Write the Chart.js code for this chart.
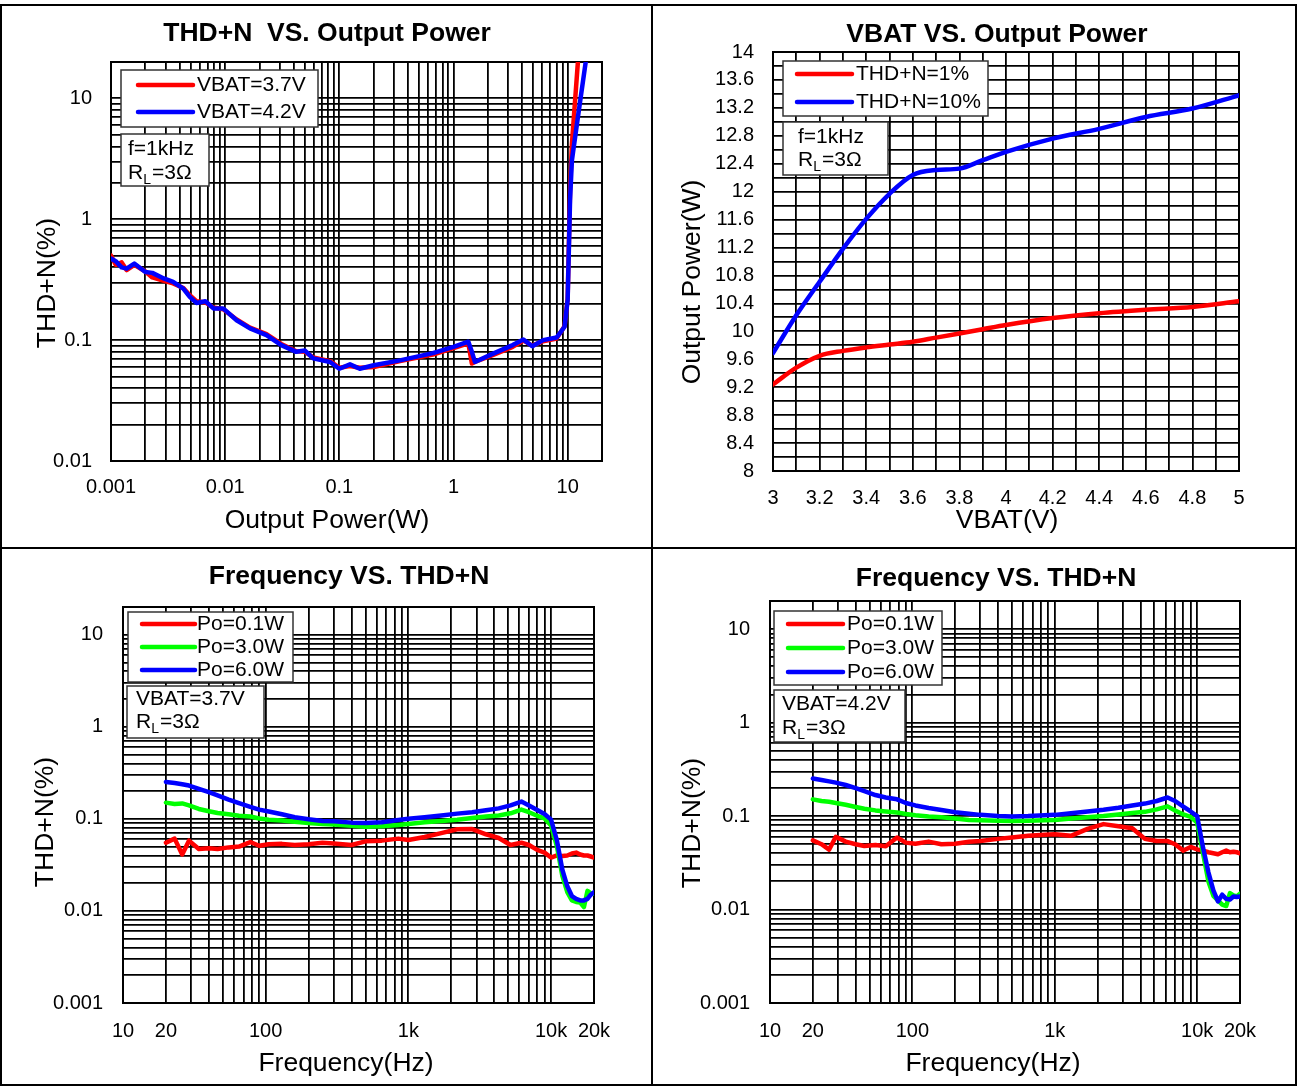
<!DOCTYPE html>
<html>
<head>
<meta charset="utf-8">
<title>Amplifier characteristics</title>
<script src="https://cdn.jsdelivr.net/npm/chart.js@4.4.1/dist/chart.umd.min.js"></script>
<style>
  html, body { margin: 0; padding: 0; background: #fff; }
  #sheet { position: relative; width: 1297px; height: 1086px; background: #fff; overflow: hidden; }
  #sheet canvas { position: absolute; }
  .rule { position: absolute; background: #000; }
</style>
</head>
<body>
<div id="sheet">
  <canvas id="thdPower"></canvas>
  <canvas id="vbatPower"></canvas>
  <canvas id="freq37"></canvas>
  <canvas id="freq42"></canvas>
  <div class="rule" style="left:0;top:4px;width:1297px;height:2px"></div>
  <div class="rule" style="left:0;top:1084px;width:1297px;height:2px"></div>
  <div class="rule" style="left:0;top:4px;width:2px;height:1082px"></div>
  <div class="rule" style="left:1295px;top:4px;width:2px;height:1082px"></div>
  <div class="rule" style="left:651px;top:4px;width:2px;height:1082px"></div>
  <div class="rule" style="left:0;top:547px;width:1297px;height:2px"></div>
</div>
<script>
// THD+N vs output power (f=1kHz, RL=3ohm)
const powerW = [0.001, 0.0011, 0.00124, 0.00137, 0.0016, 0.002, 0.0023, 0.0029, 0.0035, 0.0043,
  0.0049, 0.0056, 0.0067, 0.0079, 0.0096, 0.0126, 0.0165, 0.023, 0.031, 0.042,
  0.05, 0.059, 0.083, 0.1, 0.124, 0.151, 0.2, 0.34, 0.66, 1.0,
  1.35, 1.45, 1.54, 2.2, 3.3, 4.1, 4.9, 6.1, 8.0, 9.4,
  10, 10.5, 10.9, 12.3, 14.4];
const thdVbat37 = [0.5, 0.42, 0.44, 0.38, 0.42, 0.37, 0.33, 0.31, 0.295, 0.27,
  0.235, 0.21, 0.205, 0.186, 0.18, 0.148, 0.127, 0.112, 0.093, 0.081,
  0.08, 0.072, 0.067, 0.059, 0.061, 0.059, 0.06, 0.067, 0.076, 0.086,
  0.094, 0.064, 0.066, 0.075, 0.088, 0.099, 0.09, 0.098, 0.103, 0.13,
  0.22, 1.7, 4.2, 20, null];
const thdVbat42 = [0.473, 0.45, 0.40, 0.39, 0.43, 0.366, 0.36, 0.324, 0.303, 0.267,
  0.228, 0.203, 0.21, 0.183, 0.183, 0.146, 0.125, 0.11, 0.091, 0.08,
  0.082, 0.0706, 0.066, 0.058, 0.063, 0.058, 0.062, 0.068, 0.078, 0.088,
  0.097, 0.08, 0.066, 0.077, 0.091, 0.101, 0.089, 0.1, 0.105, 0.129,
  0.214, 1.44, 3.07, 7.0, 20];

// Output power vs VBAT
const vbatV = [3.0, 3.1, 3.2, 3.3, 3.4, 3.5, 3.6, 3.7, 3.8, 3.9, 4.0, 4.2, 4.4, 4.6, 4.8, 5.0];
const powerAt1 = [9.24, 9.48, 9.65, 9.72, 9.77, 9.81, 9.85, 9.91, 9.97, 10.03, 10.09, 10.19, 10.26, 10.31, 10.35, 10.43];
const powerAt10 = [9.69, 10.23, 10.71, 11.18, 11.61, 11.97, 12.24, 12.31, 12.33, 12.45, 12.57, 12.76, 12.9, 13.07, 13.19, 13.38];

// THD+N vs frequency
const freqHz = [20, 23, 26, 29, 34, 40, 46, 55, 65, 78,
  90, 105, 130, 160, 200, 250, 300, 400, 500, 650,
  850, 1000, 1300, 1700, 2200, 2800, 3500, 4300, 5200, 6200,
  7000, 8000, 9000, 10000, 11000, 12000, 13000, 14000, 15000, 16000,
  17000, 18000, 19000, 20000];
// VBAT=3.7V
const thd37Po01 = [0.055, 0.061, 0.041, 0.058, 0.047, 0.048, 0.047, 0.049, 0.05, 0.056,
  0.051, 0.053, 0.0535, 0.052, 0.053, 0.055, 0.054, 0.052, 0.057, 0.058,
  0.061, 0.059, 0.0635, 0.07, 0.077, 0.0775, 0.068, 0.062, 0.052, 0.055,
  0.052, 0.046, 0.043, 0.038, 0.04, 0.0395, 0.04, 0.042, 0.043, 0.041,
  0.04, 0.04, 0.039, 0.038];
const thd37Po3 = [0.15, 0.145, 0.147, 0.14, 0.128, 0.121, 0.116, 0.112, 0.108, 0.106,
  0.101, 0.098, 0.096, 0.093, 0.09, 0.088, 0.087, 0.084, 0.082, 0.083,
  0.086, 0.088, 0.092, 0.095, 0.098, 0.102, 0.106, 0.109, 0.115, 0.126,
  0.118, 0.108, 0.101, 0.085, 0.05, 0.024, 0.016, 0.013, 0.0125, 0.0123,
  0.011, 0.0165, 0.0155, 0.0154];
const thd37Po6 = [0.252, 0.245, 0.238, 0.23, 0.212, 0.195, 0.18, 0.162, 0.148, 0.135,
  0.126, 0.12, 0.112, 0.104, 0.099, 0.095, 0.094, 0.091, 0.09, 0.092,
  0.097, 0.1, 0.104, 0.109, 0.114, 0.118, 0.124, 0.13, 0.14, 0.154,
  0.14, 0.125, 0.113, 0.098, 0.058, 0.028, 0.0185, 0.0145, 0.0135, 0.013,
  0.013, 0.0135, 0.015, 0.016];
// VBAT=4.2V
const thd42Po01 = [0.055, 0.05, 0.0438, 0.06, 0.0533, 0.05, 0.0478, 0.049, 0.0475, 0.059,
  0.052, 0.0505, 0.0533, 0.05, 0.0505, 0.053, 0.054, 0.057, 0.059, 0.0615,
  0.063, 0.064, 0.0615, 0.073, 0.082, 0.078, 0.074, 0.057, 0.054, 0.054,
  0.05, 0.0427, 0.0467, 0.044, 0.0427, 0.041, 0.04, 0.039, 0.041, 0.0427,
  0.041, 0.0415, 0.041, 0.04];
const thd42Po3 = [0.151, 0.145, 0.142, 0.138, 0.132, 0.125, 0.12, 0.115, 0.112, 0.109,
  0.105, 0.102, 0.099, 0.097, 0.094, 0.091, 0.09, 0.089, 0.0885, 0.089,
  0.09, 0.0906, 0.094, 0.097, 0.1, 0.104, 0.108, 0.111, 0.118, 0.127,
  0.115, 0.104, 0.098, 0.085, 0.04, 0.02, 0.014, 0.0125, 0.0113, 0.0109,
  0.015, 0.0142, 0.0138, 0.0148];
const thd42Po6 = [0.252, 0.243, 0.235, 0.228, 0.215, 0.199, 0.185, 0.168, 0.158, 0.151,
  0.138, 0.13, 0.122, 0.116, 0.11, 0.106, 0.103, 0.1, 0.099, 0.1,
  0.102, 0.103, 0.107, 0.112, 0.117, 0.123, 0.13, 0.136, 0.145, 0.158,
  0.145, 0.126, 0.112, 0.1, 0.046, 0.025, 0.016, 0.0122, 0.0144, 0.013,
  0.0128, 0.0138, 0.0136, 0.0138];

// Tick labels
const powerTicks = [0.001, 0.01, 0.1, 1, 10];
const powerTickText = ['0.001', '0.01', '0.1', '1', '10'];
const thdTicksTop = [0.01, 0.1, 1, 10];
const thdTicksTopText = ['0.01', '0.1', '1', '10'];
const thdTicksFreq = [0.001, 0.01, 0.1, 1, 10];
const thdTicksFreqText = ['0.001', '0.01', '0.1', '1', '10'];
const freqTicks = [10, 20, 100, 1000, 10000, 20000];
const freqTickText = ['10', '20', '100', '1k', '10k', '20k'];

const FONT = '"Liberation Sans", Arial, sans-serif';
const RED = '#ff0000', GREEN = '#00ff00', BLUE = '#0000ff';

function pairs(xs, ys) {
  return xs.map((x, i) => ({ x: x, y: ys[i] }));
}

// 1..9 x 10^n grid between min and max
function logGrid(min, max) {
  const out = [];
  for (let e = Math.floor(Math.log10(min)); e <= Math.ceil(Math.log10(max)); e++) {
    for (let m = 1; m <= 9; m++) {
      const v = Number((m * Math.pow(10, e)).toPrecision(6));
      if (v >= min * 0.9999 && v <= max * 1.0001) out.push(v);
    }
  }
  return out;
}

function stepGrid(min, max, step) {
  const out = [];
  const n = Math.round((max - min) / step);
  for (let i = 0; i <= n; i++) out.push(Math.round((min + i * step) * 1000) / 1000);
  return out;
}

function axis(type, min, max, values, label, pad) {
  return {
    type: type, min: min, max: max,
    afterBuildTicks: s => { s.ticks = values.map(v => ({ value: v })); },
    ticks: {
      autoSkip: false, maxRotation: 0, minRotation: 0, padding: pad,
      color: '#000', font: { family: FONT, size: 20 },
      callback: (v, i) => label(v, i)
    },
    grid: { color: '#000', lineWidth: 1.8, drawTicks: false },
    border: { color: '#000', width: 2 }
  };
}

function listLabel(vals, texts) {
  return v => {
    const i = vals.findIndex(t => Math.abs(t - v) / t < 1e-6);
    return i < 0 ? '' : texts[i];
  };
}

// text with one-letter subscript written as X_Y
function drawRich(ctx, str, x, y) {
  const k = str.indexOf('_');
  ctx.font = '21px ' + FONT;
  if (k < 0) { ctx.fillText(str, x, y); return; }
  const head = str.slice(0, k), sub = str[k + 1], tail = str.slice(k + 2);
  ctx.fillText(head, x, y);
  x += ctx.measureText(head).width;
  ctx.font = '14px ' + FONT;
  ctx.fillText(sub, x, y + 7);
  x += ctx.measureText(sub).width + 1;
  ctx.font = '21px ' + FONT;
  ctx.fillText(tail, x, y);
}

const panelDecor = {
  id: 'panelDecor',
  beforeDatasetsDraw(chart) {
    const a = chart.chartArea, ctx = chart.ctx;
    ctx.save();
    ctx.strokeStyle = '#000';
    ctx.lineWidth = 2;
    ctx.strokeRect(a.left, a.top, a.right - a.left, a.bottom - a.top);
    ctx.restore();
  },
  afterDraw(chart, args, o) {
    const ctx = chart.ctx;
    const ox = o.origin[0], oy = o.origin[1];
    ctx.save();
    ctx.fillStyle = '#000';
    ctx.textBaseline = 'middle';

    ctx.textAlign = 'center';
    ctx.font = 'bold 26.5px ' + FONT;
    ctx.fillText(o.title[0], o.title[1] - ox, o.title[2] - oy);
    ctx.font = '26.5px ' + FONT;
    ctx.fillText(o.xTitle[0], o.xTitle[1] - ox, o.xTitle[2] - oy);
    ctx.save();
    ctx.translate(o.yTitle[1] - ox, o.yTitle[2] - oy);
    ctx.rotate(-Math.PI / 2);
    ctx.fillText(o.yTitle[0], 0, 0);
    ctx.restore();

    // legend box
    const L = o.legend;
    ctx.fillStyle = '#fff';
    ctx.fillRect(L.box[0] - ox, L.box[1] - oy, L.box[2], L.box[3]);
    ctx.strokeStyle = '#333';
    ctx.lineWidth = 1.5;
    ctx.strokeRect(L.box[0] - ox, L.box[1] - oy, L.box[2], L.box[3]);
    ctx.textAlign = 'left';
    chart.data.datasets.forEach((ds, i) => {
      const y = L.rows[i] - oy;
      ctx.strokeStyle = ds.borderColor;
      ctx.lineWidth = 4.5;
      ctx.lineCap = 'round';
      ctx.beginPath();
      ctx.moveTo(L.line[0] - ox, y);
      ctx.lineTo(L.line[1] - ox, y);
      ctx.stroke();
      ctx.fillStyle = '#000';
      ctx.font = '21px ' + FONT;
      ctx.fillText(ds.label, L.textX - ox, y);
    });

    // condition box
    const N = o.note;
    ctx.fillStyle = '#fff';
    ctx.fillRect(N.box[0] - ox, N.box[1] - oy, N.box[2], N.box[3]);
    ctx.strokeStyle = '#333';
    ctx.lineWidth = 1.5;
    ctx.strokeRect(N.box[0] - ox, N.box[1] - oy, N.box[2], N.box[3]);
    ctx.fillStyle = '#000';
    N.lines.forEach((s, i) => drawRich(ctx, s, N.textX - ox, N.rows[i] - oy));
    ctx.restore();
  }
};

function makePanel(id, rect, area, xAxis, yAxis, datasets, decor) {
  const [ox, oy, w, h] = rect;
  const cv = document.getElementById(id);
  cv.style.left = ox + 'px';
  cv.style.top = oy + 'px';
  cv.width = w;
  cv.height = h;
  xAxis.afterFit = s => { s.height = oy + h - area.bottom; };
  yAxis.afterFit = s => { s.width = area.left - ox; };
  return new Chart(cv, {
    type: 'line',
    data: { datasets: datasets },
    options: {
      responsive: false,
      animation: false,
      events: [],
      layout: { padding: { left: 0, top: area.top - oy, right: ox + w - area.right, bottom: 0 } },
      elements: { point: { radius: 0 }, line: { borderWidth: 4.5, borderJoinStyle: 'round', borderCapStyle: 'round' } },
      scales: { x: xAxis, y: yAxis },
      plugins: {
        legend: { display: false },
        title: { display: false },
        tooltip: { enabled: false },
        panelDecor: Object.assign({ origin: [ox, oy] }, decor)
      }
    },
    plugins: [panelDecor]
  });
}

function series(label, color, xs, ys, order, tension) {
  return { label: label, data: pairs(xs, ys), borderColor: color, backgroundColor: color,
    fill: false, order: order, tension: tension || 0, cubicInterpolationMode: tension ? 'monotone' : 'default' };
}

const fmt = v => String(Math.round(v * 10) / 10);

// Top left
makePanel('thdPower', [0, 0, 651, 547], { left: 111, top: 62, right: 602, bottom: 461 },
  axis('logarithmic', 0.001, 20, logGrid(0.001, 20), listLabel(powerTicks, powerTickText), 14),
  axis('logarithmic', 0.01, 20, logGrid(0.01, 20), listLabel(thdTicksTop, thdTicksTopText), 19),
  [series('VBAT=3.7V', RED, powerW, thdVbat37, 1),
   series('VBAT=4.2V', BLUE, powerW, thdVbat42, 0)],
  {
    title: ['THD+N  VS. Output Power', 327, 34],
    xTitle: ['Output Power(W)', 327, 521],
    yTitle: ['THD+N(%)', 48, 283],
    legend: { box: [121, 70, 197, 57], line: [138, 193], textX: 197, rows: [85, 112] },
    note: { box: [121, 134, 88, 52], textX: 128, rows: [149, 173], lines: ['f=1kHz', 'R_L=3Ω'] }
  });

// Top right
makePanel('vbatPower', [653, 0, 644, 547], { left: 773, top: 52, right: 1239, bottom: 471 },
  axis('linear', 3, 5, stepGrid(3, 5, 0.1), (v, i) => i % 2 ? '' : fmt(v), 15),
  axis('linear', 8, 14, stepGrid(8, 14, 0.2), (v, i) => i % 2 ? '' : fmt(v), 19),
  [series('THD+N=1%', RED, vbatV, powerAt1, 1, 0.4),
   series('THD+N=10%', BLUE, vbatV, powerAt10, 0, 0.4)],
  {
    title: ['VBAT VS. Output Power', 997, 35],
    xTitle: ['VBAT(V)', 1007, 521],
    yTitle: ['Output Power(W)', 693, 282],
    legend: { box: [783, 61, 205, 55], line: [797, 852], textX: 856, rows: [74, 102] },
    note: { box: [783, 122, 105, 53], textX: 798, rows: [137, 160], lines: ['f=1kHz', 'R_L=3Ω'] }
  });

// Bottom left
makePanel('freq37', [0, 549, 651, 537], { left: 123, top: 607, right: 594, bottom: 1003 },
  axis('logarithmic', 10, 20000, logGrid(10, 20000), listLabel(freqTicks, freqTickText), 16),
  axis('logarithmic', 0.001, 20, logGrid(0.001, 20), listLabel(thdTicksFreq, thdTicksFreqText), 20),
  [series('Po=0.1W', RED, freqHz, thd37Po01, 2),
   series('Po=3.0W', GREEN, freqHz, thd37Po3, 1),
   series('Po=6.0W', BLUE, freqHz, thd37Po6, 0)],
  {
    title: ['Frequency VS. THD+N', 349, 577],
    xTitle: ['Frequency(Hz)', 346, 1064],
    yTitle: ['THD+N(%)', 46, 822],
    legend: { box: [128, 612, 165, 70], line: [142, 195], textX: 197, rows: [624, 647, 670] },
    note: { box: [127, 686, 137, 52], textX: 136, rows: [699, 722], lines: ['VBAT=3.7V', 'R_L=3Ω'] }
  });

// Bottom right
makePanel('freq42', [653, 549, 644, 537], { left: 770, top: 601, right: 1240, bottom: 1003 },
  axis('logarithmic', 10, 20000, logGrid(10, 20000), listLabel(freqTicks, freqTickText), 16),
  axis('logarithmic', 0.001, 20, logGrid(0.001, 20), listLabel(thdTicksFreq, thdTicksFreqText), 20),
  [series('Po=0.1W', RED, freqHz, thd42Po01, 2),
   series('Po=3.0W', GREEN, freqHz, thd42Po3, 1),
   series('Po=6.0W', BLUE, freqHz, thd42Po6, 0)],
  {
    title: ['Frequency VS. THD+N', 996, 579],
    xTitle: ['Frequency(Hz)', 993, 1064],
    yTitle: ['THD+N(%)', 693, 823],
    legend: { box: [774, 611, 168, 74], line: [788, 843], textX: 847, rows: [624, 648, 672] },
    note: { box: [774, 690, 131, 52], textX: 782, rows: [704, 728], lines: ['VBAT=4.2V', 'R_L=3Ω'] }
  });
</script>
</body>
</html>
